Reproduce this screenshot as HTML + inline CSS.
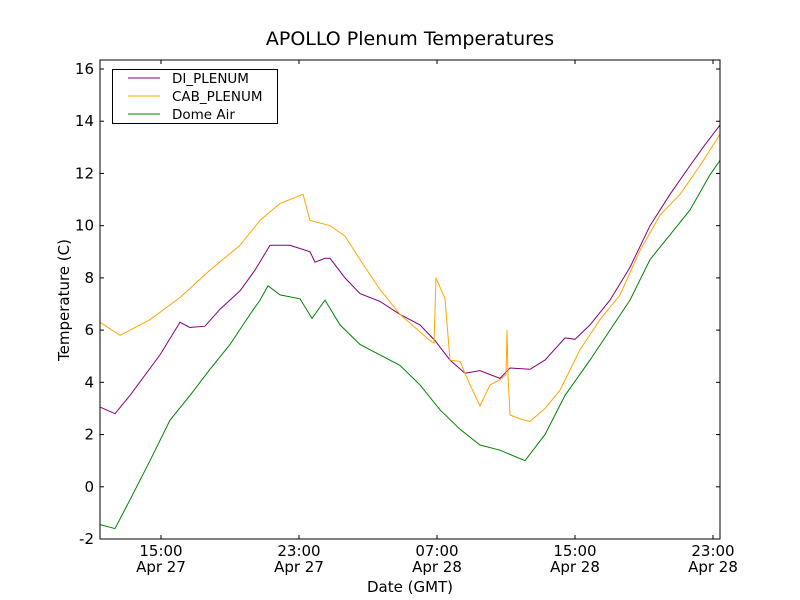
<!DOCTYPE html>
<html><head><meta charset="utf-8"><style>
body{margin:0;background:#fff;}
svg{display:block;font-family:"DejaVu Sans","Liberation Sans",sans-serif;}
</style></head><body>
<svg id="chart" width="800" height="600">
<rect width="800" height="600" fill="#fff"/>
</svg>
<script>
const xTickHours=[15,23,31,39,47];
const xTickTimes=["15:00","23:00","07:00","15:00","23:00"];
const xTickDates=["Apr 27","Apr 27","Apr 28","Apr 28","Apr 28"];
const yTicks=[-2,0,2,4,6,8,10,12,14,16];
const diX=[100,115,130,160,180,190,205,220,240,255,270,290,310,315,325,330,345,360,380,400,420,435,450,465,480,500,510,530,545,565,575,590,610,630,650,670,690,705,720];
const diV=[3.05,2.8,3.5,5.05,6.3,6.1,6.15,6.8,7.5,8.3,9.25,9.25,9.0,8.6,8.75,8.75,8.0,7.4,7.1,6.6,6.2,5.6,4.85,4.35,4.45,4.15,4.55,4.5,4.85,5.7,5.65,6.2,7.15,8.4,10.0,11.2,12.3,13.1,13.85];
const cabX=[100,120,150,180,210,240,260,280,303,310,330,345,360,380,400,430,434,436,445,450,460,470,480,490,500,506,507,508,510,520,530,545,560,580,600,620,640,660,680,700,720];
const cabV=[6.3,5.8,6.4,7.25,8.3,9.25,10.2,10.85,11.2,10.2,10.0,9.6,8.7,7.55,6.6,5.6,5.5,8.0,7.2,4.85,4.8,3.9,3.1,3.9,4.1,4.3,6.0,4.3,2.75,2.6,2.5,3.0,3.7,5.25,6.4,7.35,9.05,10.4,11.2,12.3,13.5];
const domeX=[100,115,130,150,170,190,210,230,250,260,268,280,300,312,325,340,360,380,400,420,440,460,480,500,525,545,565,590,610,630,650,670,690,710,720];
const domeV=[-1.45,-1.6,-0.5,1.0,2.55,3.5,4.5,5.45,6.6,7.15,7.7,7.35,7.2,6.45,7.15,6.2,5.45,5.05,4.65,3.9,2.95,2.2,1.6,1.4,1.0,2.0,3.5,4.85,6.0,7.15,8.7,9.65,10.6,11.95,12.5];
const L=100,R=720,T=60,B=539;
const hMin=15-(161-L)/17.25, hMax=15+(R-161)/17.25;
const vMin=-2, vMax=16+(69-T)/26.11;
function sx(h){return L+(h-hMin)/(hMax-hMin)*(R-L);}
function sy(v){return B-(v-vMin)/(vMax-vMin)*(B-T);}
function pxToH(x){return 15+(x-161)/17.25;}
const svg=document.getElementById('chart');
const NS='http://www.w3.org/2000/svg';
function mk(tag,attrs,parent){const e=document.createElementNS(NS,tag);for(const k in attrs)e.setAttribute(k,attrs[k]);(parent||svg).appendChild(e);return e;}
function txt(s,attrs){const e=mk('text',attrs);e.textContent=s;return e;}
function series(xs,vs,color,name){
  const d=xs.map((x,i)=>(i?'L':'M')+sx(pxToH(x)).toFixed(1)+','+sy(vs[i]).toFixed(1)).join('');
  const p=mk('path',{d:d,fill:'none',stroke:color,'stroke-width':1});
  
  
}
series(domeX,domeV,'#008000','dome-air-line');
series(diX,diV,'#800080','di-plenum-line');
series(cabX,cabV,'#ffa500','cab-plenum-line');
const frame=mk('rect',{x:L,y:T,width:R-L,height:B-T,fill:'none',stroke:'#000','stroke-width':1});


yTicks.forEach(v=>{const y=sy(v);
  mk('line',{x1:L,x2:L+4,y1:y,y2:y,stroke:'#000'});mk('line',{x1:R,x2:R-4,y1:y,y2:y,stroke:'#000'});
  const t=txt(String(v),{x:L-6,y:y+5,'text-anchor':'end','font-size':15});
  
  
});
xTickHours.forEach((h,i)=>{const x=sx(h);
  mk('line',{x1:x,x2:x,y1:B,y2:B-4,stroke:'#000'});mk('line',{x1:x,x2:x,y1:T,y2:T+4,stroke:'#000'});
  const t=txt(xTickTimes[i],{x:x,y:556,'text-anchor':'middle','font-size':15});
  
  
  const t2=txt(xTickDates[i],{x:x,y:572,'text-anchor':'middle','font-size':15});
  
  
});
const title=txt('APOLLO Plenum Temperatures',{x:410,y:45,'text-anchor':'middle','font-size':19});


const xl=txt('Date (GMT)',{x:410,y:592,'text-anchor':'middle','font-size':15});


const yl=txt('Temperature (C)',{x:0,y:0,'text-anchor':'middle','font-size':15,transform:'translate(69,300) rotate(-90)'});


const lg=mk('g',{});


mk('rect',{x:112.5,y:69.5,width:165,height:54,fill:'#fff',stroke:'#000'},lg);
[['DI_PLENUM','#800080',78],['CAB_PLENUM','#ffa500',96],['Dome Air','#008000',114]].forEach(e=>{
  const g=mk('g',{},lg);
  
  
  mk('line',{x1:128,x2:160,y1:e[2],y2:e[2],stroke:e[1]},g);
  const t=mk('text',{x:172,y:e[2]+5,'font-size':13.5},g);t.textContent=e[0];
});
</script>
</body></html>
